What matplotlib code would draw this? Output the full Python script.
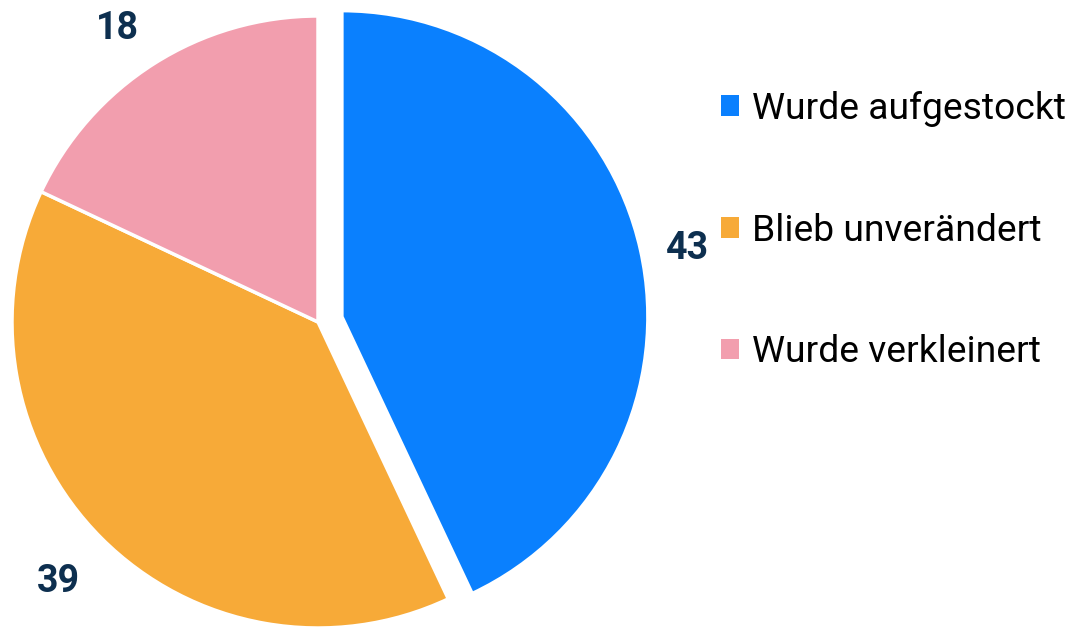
import matplotlib.pyplot as plt
import numpy as np

# Data
labels = ['Wurde aufgestockt', 'Blieb unverändert', 'Wurde verkleinert']
values = [43, 39, 18]
colors = ['#0A80FE', '#F7AA38', '#F29EAE']
explode = [0.08, 0, 0]
label_dist = [1.152, 1.2, 1.163]
label_nudge = [-1.4, 0, 2.0]  # degrees

plt.rcParams['font.family'] = ['Roboto', 'DejaVu Sans']

W, H = 1068, 628
fig = plt.figure(figsize=(W / 100, H / 100), dpi=100)

# pie center at pixel (318, 322), radius 306 px
cx, cy, r = 318, 322, 306
ax = fig.add_axes([(cx - r) / W, (H - cy - r) / H, 2 * r / W, 2 * r / H])

wedges, _ = ax.pie(values, colors=colors, startangle=90, counterclock=False,
                   explode=explode, radius=1,
                   wedgeprops=dict(edgecolor='white', linewidth=2.5))
for w in wedges:
    w.set_clip_on(False)
ax.set_xlim(-1, 1)
ax.set_ylim(-1, 1)
ax.set_aspect('equal')
ax.axis('off')

# value labels outside the slices
for w, v, d, n in zip(wedges, values, label_dist, label_nudge):
    ang = np.deg2rad((w.theta1 + w.theta2) / 2 + n)
    x0, y0 = w.center
    ax.text(x0 + d * np.cos(ang), y0 + d * np.sin(ang), str(v),
            ha='center', va='center', fontsize=27, fontweight='bold',
            color='#0D2F4F')

fig.legend(wedges, labels, loc='upper left',
           bbox_to_anchor=(721 / W, 1 - 91 / H), frameon=False,
           fontsize=26.8, handlelength=0.49, handleheight=0.49,
           handletextpad=0.33, labelspacing=2.3, borderpad=0,
           borderaxespad=0)
for h in fig.legends[0].legend_handles:
    h.set_edgecolor('none')

fig.savefig('out.png', dpi=100)
